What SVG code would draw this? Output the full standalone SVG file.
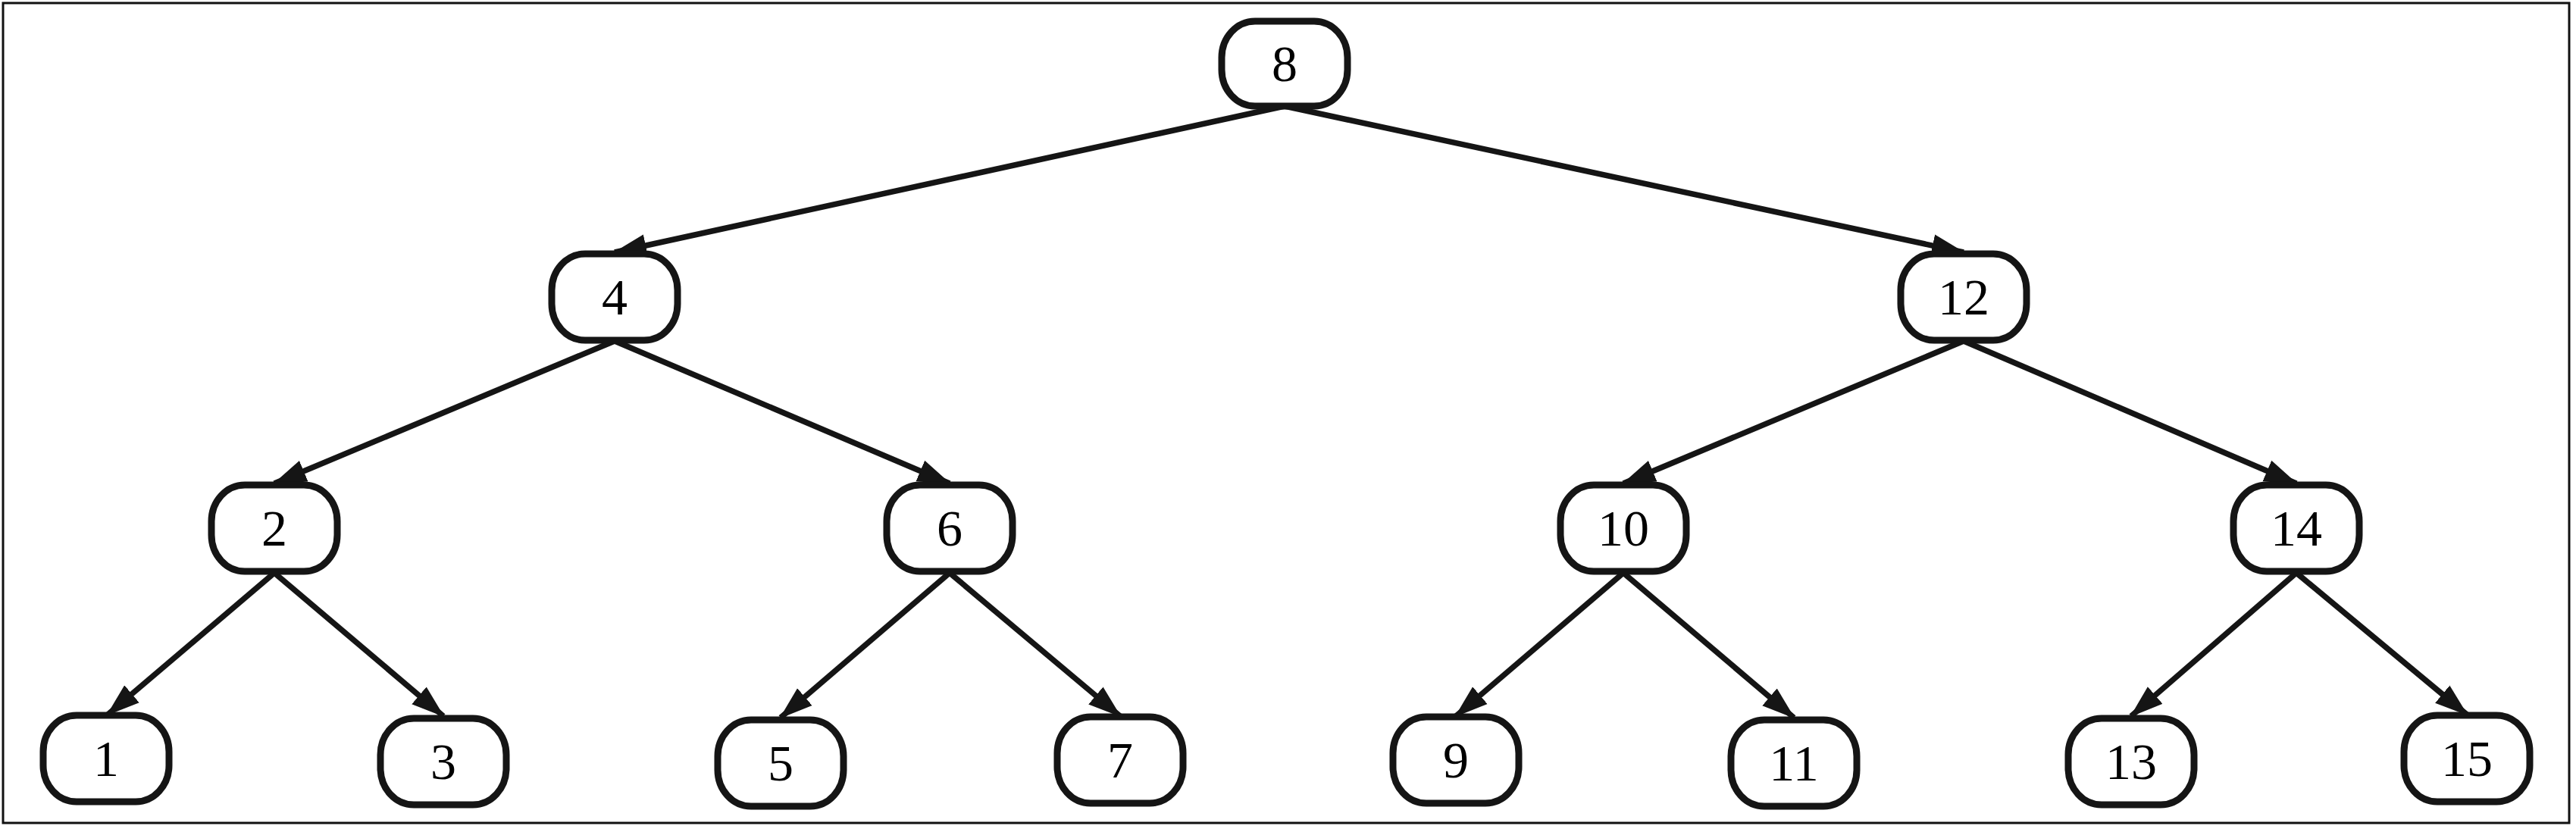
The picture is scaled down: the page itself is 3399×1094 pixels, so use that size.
<svg xmlns="http://www.w3.org/2000/svg" width="3399" height="1094" viewBox="0 0 3399 1094">
<style>
.node rect{fill:#fff;stroke:#151515;stroke-width:9}
.node text{font-family:"Liberation Serif","DejaVu Serif",serif;font-size:68px;fill:#000;text-anchor:middle}
.edge{stroke:#151515;stroke-width:7.5;fill:none;marker-end:url(#arr)}
</style>
<defs>
<marker id="arr" markerUnits="userSpaceOnUse" markerWidth="44" markerHeight="34" viewBox="0 0 44 34" refX="42" refY="17" orient="auto">
<path d="M0,2 L44,17 L0,32 Z" fill="#151515"/>
</marker>
</defs>
<rect x="4" y="4" width="3386" height="1082" fill="#fff" stroke="#111" stroke-width="3"/>
<g id="connectors">
<line class="edge" x1="1695" y1="140" x2="811" y2="333"/>
<line class="edge" x1="1695" y1="140" x2="2591" y2="333"/>
<line class="edge" x1="811" y1="450" x2="362" y2="638"/>
<line class="edge" x1="811" y1="450" x2="1253" y2="638"/>
<line class="edge" x1="2591" y1="450" x2="2142" y2="638"/>
<line class="edge" x1="2591" y1="450" x2="3030" y2="638"/>
<line class="edge" x1="362" y1="756" x2="142" y2="943"/>
<line class="edge" x1="362" y1="756" x2="585" y2="945"/>
<line class="edge" x1="1253" y1="756" x2="1030" y2="947"/>
<line class="edge" x1="1253" y1="756" x2="1478" y2="945"/>
<line class="edge" x1="2142" y1="756" x2="1921" y2="945"/>
<line class="edge" x1="2142" y1="756" x2="2367" y2="947"/>
<line class="edge" x1="3030" y1="756" x2="2812" y2="945"/>
<line class="edge" x1="3030" y1="756" x2="3255" y2="943"/>
</g>
<g id="n8" class="node"><rect x="1612" y="28" width="166" height="112" rx="44" ry="48"/><text x="1695" y="107">8</text></g>
<g id="n4" class="node"><rect x="728" y="335" width="166" height="114" rx="44" ry="48"/><text x="811" y="415">4</text></g>
<g id="n12" class="node"><rect x="2508" y="335" width="166" height="114" rx="44" ry="48"/><text x="2591" y="415">12</text></g>
<g id="n2" class="node"><rect x="279" y="640" width="166" height="114" rx="44" ry="48"/><text x="362" y="720">2</text></g>
<g id="n6" class="node"><rect x="1170" y="640" width="166" height="114" rx="44" ry="48"/><text x="1253" y="720">6</text></g>
<g id="n10" class="node"><rect x="2059" y="640" width="166" height="114" rx="44" ry="48"/><text x="2142" y="720">10</text></g>
<g id="n14" class="node"><rect x="2947" y="640" width="166" height="114" rx="44" ry="48"/><text x="3030" y="720">14</text></g>
<g id="n1" class="node"><rect x="57" y="944" width="166" height="114" rx="44" ry="48"/><text x="140" y="1024">1</text></g>
<g id="n3" class="node"><rect x="502" y="948" width="166" height="114" rx="44" ry="48"/><text x="585" y="1028">3</text></g>
<g id="n5" class="node"><rect x="947" y="950" width="166" height="114" rx="44" ry="48"/><text x="1030" y="1030">5</text></g>
<g id="n7" class="node"><rect x="1395" y="946" width="166" height="114" rx="44" ry="48"/><text x="1478" y="1026">7</text></g>
<g id="n9" class="node"><rect x="1838" y="946" width="166" height="114" rx="44" ry="48"/><text x="1921" y="1026">9</text></g>
<g id="n11" class="node"><rect x="2284" y="950" width="166" height="114" rx="44" ry="48"/><text x="2367" y="1030">11</text></g>
<g id="n13" class="node"><rect x="2729" y="948" width="166" height="114" rx="44" ry="48"/><text x="2812" y="1028">13</text></g>
<g id="n15" class="node"><rect x="3172" y="944" width="166" height="114" rx="44" ry="48"/><text x="3255" y="1024">15</text></g>
</svg>
